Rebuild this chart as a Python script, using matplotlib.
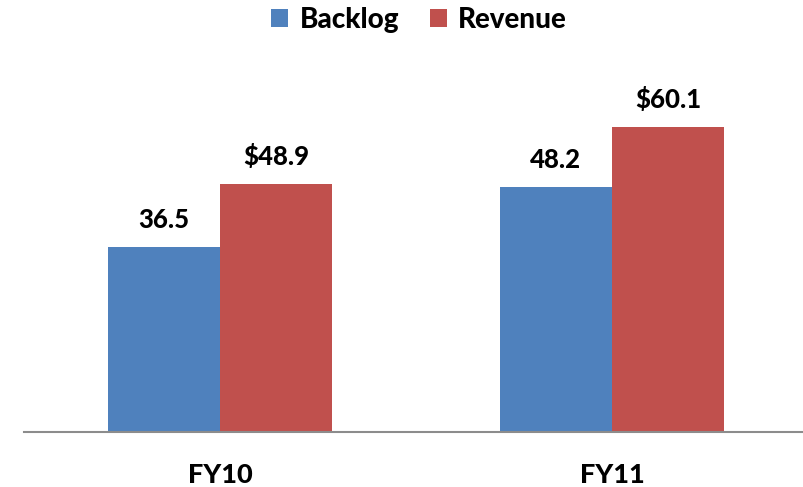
import matplotlib
matplotlib.use("Agg")
import matplotlib.pyplot as plt
import numpy as np

plt.rcParams['font.family'] = ['Lato', 'DejaVu Sans']

# data
years = ["FY10", "FY11"]
backlog = [36.5, 48.2]
revenue = [48.9, 60.1]
backlog_labels = ["36.5", "48.2"]
revenue_labels = ["$48.9", "$60.1"]

fig = plt.figure(figsize=(8.04, 4.87), dpi=100)
ax = fig.add_axes([24 / 804, 55 / 487, 784 / 804, 406 / 487])

x = np.arange(len(years))
w = 0.286
b1 = ax.bar(x - w / 2, backlog, w, color="#4F81BD", label="Backlog")
b2 = ax.bar(x + w / 2, revenue, w, color="#C0504D", label="Revenue")

for bars, labels in [(b1, backlog_labels), (b2, revenue_labels)]:
    for rect, lab in zip(bars, labels):
        ax.annotate(lab, (rect.get_x() + rect.get_width() / 2, rect.get_height()),
                    xytext=(0, 27), textcoords="offset pixels", ha="center", va="center",
                    fontsize=18.5, fontweight="black")

ax.set_xlim(-0.5, 1.5)
ax.set_ylim(0, 80)
for s in ["top", "right", "left"]:
    ax.spines[s].set_visible(False)
ax.spines["bottom"].set_color("#8C8C8C")
ax.spines["bottom"].set_linewidth(1.5)
ax.set_yticks([])
ax.set_xticks(x)
ax.set_xticklabels(years, fontsize=19.5, fontweight="black")
ax.tick_params(axis="x", length=0, pad=22)

leg = fig.legend(loc="center", bbox_to_anchor=(419 / 804, 1 - 20 / 487), ncol=2, frameon=False,
                 prop={"size": 20, "weight": "black"}, handlelength=0.62, handleheight=0.62,
                 handletextpad=0.4, columnspacing=1.1)

fig.savefig("out.png", dpi=100)
